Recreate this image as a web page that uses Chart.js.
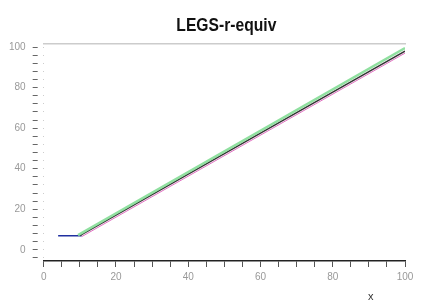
<!DOCTYPE html>
<html>
<head>
<meta charset="utf-8">
<script src="https://cdn.jsdelivr.net/npm/chart.js@4"></script>
<style>
  body { margin: 0; background: #fff; }
  #grafica { display: block; }
</style>
</head>
<body>
<canvas id="grafica" width="421" height="306"></canvas>
<script>
// datos
const xVerde = [9.5, 100];
const yVerde = [7.3, 99.5];
const xNegra = [10, 100];
const yNegra = [7, 98];
const xMagenta = [10.5, 100];
const yMagenta = [6.5, 97];
const xAzul = [4, 10.5];
const yAzul = [7, 7];
const etiquetasX = [0, 20, 40, 60, 80, 100];
const etiquetasY = [0, 20, 40, 60, 80, 100];
const titulo = "LEGS-r-equiv";

function puntos(xs, ys) {
  return xs.map(function (x, i) { return { x: x, y: ys[i] }; });
}

const fuenteEje = { family: "'Liberation Sans Narrow', 'Liberation Sans', Arial", size: 10 };

// titulo centrado sobre el area y texto "x" debajo del eje
const textos = {
  id: "textos",
  afterDraw(chart) {
    const ctx = chart.ctx;
    const area = chart.chartArea;
    const sx = chart.scales.x;
    ctx.save();
    ctx.fillStyle = "#111";
    ctx.font = "bold 18px 'Liberation Sans', Arial";
    ctx.textAlign = "center";
    ctx.textBaseline = "alphabetic";
    const ancho = ctx.measureText(titulo).width;
    const escala = 100 / ancho;
    ctx.translate((area.left + area.right) / 2 + 2, 31);
    ctx.scale(escala, 1);
    ctx.fillText(titulo, 0, 0);
    ctx.restore();

    ctx.save();
    ctx.fillStyle = "#333";
    ctx.font = "11px 'Liberation Sans', Arial";
    ctx.textAlign = "center";
    ctx.fillText("x", sx.getPixelForValue(90.5), 300);
    ctx.restore();
  }
};

const chartDOM = document.getElementById("grafica");
new Chart(chartDOM, {
  type: "line",
  data: {
    datasets: [
      { label: "verde", data: puntos(xVerde, yVerde), borderColor: "#90e0a0", borderWidth: 2.5 },
      { label: "negra", data: puntos(xNegra, yNegra), borderColor: "#333333", borderWidth: 1.5 },
      { label: "magenta", data: puntos(xMagenta, yMagenta), borderColor: "#e070c0", borderWidth: 1 },
      { label: "azul", data: puntos(xAzul, yAzul), borderColor: "#2030a0", borderWidth: 1.5 }
    ]
  },
  options: {
    responsive: false,
    animation: false,
    layout: { padding: { left: 2, right: 16, top: 44, bottom: 19 } },
    elements: { point: { radius: 0 }, line: { tension: 0 } },
    plugins: {
      legend: { display: false },
      tooltip: { enabled: false },
      title: { display: false }
    },
    scales: {
      x: {
        type: "linear",
        min: 0,
        max: 100,
        afterBuildTicks: function (eje) {
          const t = [];
          for (let v = 0; v <= 100; v += 5) t.push({ value: v });
          eje.ticks = t;
        },
        ticks: {
          color: "#999",
          font: fuenteEje,
          maxRotation: 0,
          autoSkip: false,
          padding: 4,
          callback: function (v) { return etiquetasX.includes(v) ? String(v) : ""; }
        },
        grid: { drawOnChartArea: false, tickLength: 6, tickColor: "#555" },
        border: { color: "#222", width: 1.5 }
      },
      arriba: {
        type: "linear",
        position: "top",
        min: 0,
        max: 100,
        ticks: { display: false },
        grid: { display: false, tickLength: 0 },
        border: { color: "#ccc", width: 1.5 }
      },
      y: {
        min: -5.5,
        max: 101.5,
        afterBuildTicks: function (eje) {
          const t = [];
          for (let v = -4; v <= 100; v += 4) t.push({ value: v });
          eje.ticks = t;
        },
        ticks: {
          color: "#999",
          font: fuenteEje,
          autoSkip: false,
          padding: 7,
          callback: function (v) { return etiquetasY.includes(v) ? String(v) : ""; }
        },
        grid: {
          drawOnChartArea: false,
          tickLength: 11,
          tickColor: "#666",
          tickBorderDash: [5, 6],
          tickBorderDashOffset: 0
        },
        border: { display: false }
      }
    }
  },
  plugins: [textos]
});
</script>
</body>
</html>
